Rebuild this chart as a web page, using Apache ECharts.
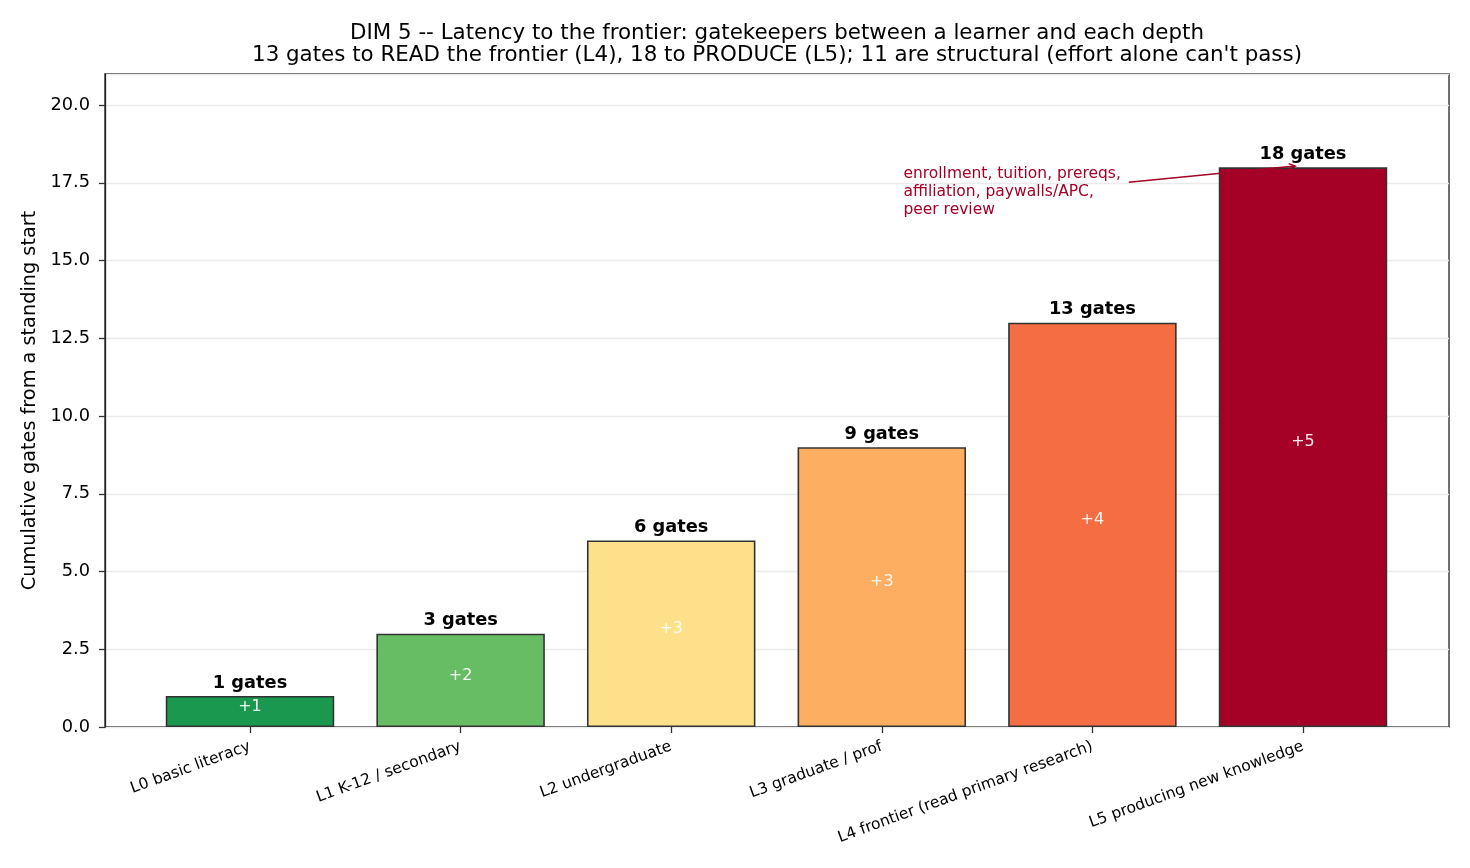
<!DOCTYPE html>
<html>
<head>
<meta charset="utf-8">
<script src="https://cdn.jsdelivr.net/npm/echarts@6/dist/echarts.min.js"></script>
<style>
  * { margin: 0; padding: 0; }
  body { background: #fff; }
  #chart { width: 1470px; height: 868px; }
</style>
</head>
<body>
<div id="chart"></div>
<script>
// data
var levels = [
  "L0 basic literacy",
  "L1 K-12 / secondary",
  "L2 undergraduate",
  "L3 graduate / prof",
  "L4 frontier (read primary research)",
  "L5 producing new knowledge"
];
var cumulative = [1, 3, 6, 9, 13, 18];
var added = [1, 2, 3, 3, 4, 5];
var barColors = ["#1a9850", "#66bd63", "#fee08b", "#fdae61", "#f46d43", "#a50026"];
var yTicks = [0, 2.5, 5, 7.5, 10, 12.5, 15, 17.5, 20];
var noteLines = ["enrollment, tuition, prereqs,", "affiliation, paywalls/APC,", "peer review"];

var FONT = "DejaVu Sans";
var myChart = echarts.init(document.getElementById("chart"));

var option = {
  animation: false,
  textStyle: { fontFamily: FONT },
  title: {
    text: "DIM 5 -- Latency to the frontier: gatekeepers between a learner and each depth\n13 gates to READ the frontier (L4), 18 to PRODUCE (L5); 11 are structural (effort alone can't pass)",
    left: 772,
    textAlign: "center",
    top: 17,
    textStyle: { fontFamily: FONT, fontSize: 21.4, fontWeight: "normal", color: "#000", lineHeight: 22.5 }
  },
  grid: [
    // bars: category band matched to matplotlib bar spacing
    { left: 144.7, top: 74, width: 1263.6, height: 653 },
    // frame + y axis
    { left: 105, top: 74, width: 1344, height: 653, show: true, borderColor: "#222", borderWidth: 1.3, z: 0 }
  ],
  xAxis: [
    {
      gridIndex: 0,
      type: "category",
      data: levels,
      axisLine: { show: false },
      axisTick: { show: true, alignWithLabel: true, length: 6, lineStyle: { color: "#333", width: 1.3 } },
      axisLabel: { rotate: 20, fontSize: 15.5, color: "#000", margin: 19, interval: 0, fontFamily: FONT }
    },
    {
      gridIndex: 1,
      type: "value",
      min: -0.69,
      max: 5.69,
      show: false
    }
  ],
  yAxis: [
    { gridIndex: 0, type: "value", min: 0, max: 21, show: false },
    {
      gridIndex: 1,
      type: "value",
      min: 0,
      max: 21,
      interval: 2.5,
      name: "Cumulative gates from a standing start",
      nameLocation: "middle",
      nameGap: 66,
      nameTextStyle: { fontSize: 19.3, color: "#000", fontFamily: FONT },
      axisLine: { show: true, onZero: false, lineStyle: { color: "#222", width: 1.3 } },
      axisTick: { show: true, length: 6, lineStyle: { color: "#333", width: 1.3 } },
      axisLabel: {
        fontSize: 17.8, color: "#000", margin: 15, fontFamily: FONT,
        showMaxLabel: false,
        formatter: function (v) { return yTicks.indexOf(v) >= 0 ? v.toFixed(1) : ""; }
      },
      splitLine: { show: true, lineStyle: { color: "#ebebeb", width: 1.3 } }
    }
  ],
  series: [
    {
      type: "bar",
      xAxisIndex: 0,
      yAxisIndex: 0,
      barWidth: "80%",
      z: 3,
      data: cumulative.map(function (v, i) {
        return {
          value: v,
          itemStyle: { color: barColors[i], borderColor: "#333", borderWidth: 1.6 }
        };
      }),
      label: {
        show: true,
        position: "top",
        distance: 4,
        fontSize: 17.8,
        fontWeight: "bold",
        color: "#000",
        fontFamily: FONT,
        formatter: function (p) { return p.value + " gates"; }
      }
    },
    {
      // transparent overlay carrying the "+n" increment labels
      type: "bar",
      xAxisIndex: 0,
      yAxisIndex: 0,
      barWidth: "80%",
      barGap: "-100%",
      z: 4,
      silent: true,
      itemStyle: { color: "rgba(0,0,0,0)" },
      data: cumulative,
      label: {
        show: true,
        position: "inside",
        offset: [0, -5],
        fontSize: 16,
        color: "rgba(255,255,255,0.92)",
        fontFamily: FONT,
        formatter: function (p) { return "+" + added[p.dataIndex]; }
      }
    }
  ]
};

myChart.setOption(option);

// annotation, placed in data coordinates of the frame grid
function px(x, y) { return myChart.convertToPixel({ gridIndex: 1 }, [x, y]); }
var tp = px(3.1, 16.34);
var a0 = px(4.17, 17.52);
var a1 = px(4.96, 18.04);
var ang = Math.atan2(a1[1] - a0[1], a1[0] - a0[0]);
var hl = 7;
var graphics = [
  {
    type: "text",
    x: tp[0],
    y: tp[1],
    z: 10,
    style: {
      text: noteLines.join("\n"),
      fill: "#a50026",
      font: "15.5px 'DejaVu Sans'",
      lineHeight: 18,
      textAlign: "left",
      verticalAlign: "bottom"
    }
  },
  {
    type: "line",
    z: 10,
    shape: { x1: a0[0], y1: a0[1], x2: a1[0], y2: a1[1] },
    style: { stroke: "#a50026", lineWidth: 1.5 }
  },
  {
    type: "polyline",
    z: 10,
    shape: {
      points: [
        [a1[0] - hl * Math.cos(ang - 0.45), a1[1] - hl * Math.sin(ang - 0.45)],
        [a1[0], a1[1]],
        [a1[0] - hl * Math.cos(ang + 0.45), a1[1] - hl * Math.sin(ang + 0.45)]
      ]
    },
    style: { stroke: "#a50026", lineWidth: 1.5, fill: null }
  }
];
myChart.setOption({ graphic: graphics });
</script>
</body>
</html>
